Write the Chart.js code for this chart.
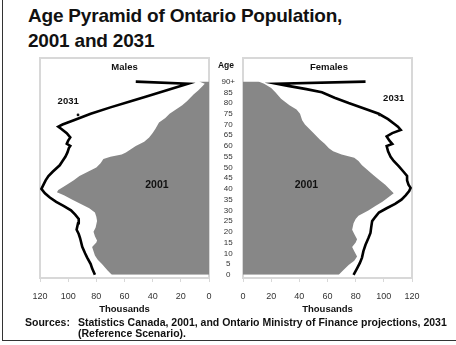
<!DOCTYPE html>
<html>
<head>
<meta charset="utf-8">
<script src="https://cdn.jsdelivr.net/npm/chart.js@4.4.1/dist/chart.umd.min.js"></script>
<style>
  html, body { margin: 0; padding: 0; background: #fff; }
  body { width: 456px; height: 345px; position: relative; overflow: hidden; font-family: "Liberation Sans", Arial, sans-serif; color: #111; }
  canvas { position: absolute; left: 0; top: 0; }
  .frame { position: absolute; left: 2px; top: -2px; width: 460px; height: 342px; border-left: 1px solid #333; border-bottom: 1px solid #333; }
  .title { position: absolute; left: 28px; top: 4px; font-size: 19px; font-weight: bold; line-height: 24.5px; letter-spacing: -0.2px; }
  .src-label { position: absolute; left: 25px; top: 317px; font-size: 10.5px; font-weight: bold; line-height: 10.5px; }
  .src-text { position: absolute; left: 78px; top: 317px; font-size: 10.5px; font-weight: bold; line-height: 10.5px; white-space: nowrap; }
</style>
</head>
<body>
<div class="frame"></div>
<div class="title">Age Pyramid of Ontario Population,<br>2001 and 2031</div>
<canvas id="males" width="456" height="345"></canvas>
<canvas id="females" width="456" height="345"></canvas>
<div class="src-label">Sources:</div>
<div class="src-text">Statistics Canada, 2001, and Ontario Ministry of Finance projections, 2031<br>(Reference Scenario).</div>
<script>
// ages on the vertical axis, thousands of people on the horizontal one
const AGE_TICKS = [0, 5, 10, 15, 20, 25, 30, 35, 40, 45, 50, 55, 60, 65, 70, 75, 80, 85, 90];
const AGE_TICK_LABELS = ['0', '5', '10', '15', '20', '25', '30', '35', '40', '45', '50', '55', '60', '65', '70', '75', '80', '85', '90+'];
const THOUSANDS_TICKS = [0, 20, 40, 60, 80, 100, 120];

// [age, thousands] - 90 stands for 90+
const MALES_2001 = [
  [0, 69], [2, 72], [5, 76], [7, 79], [9, 81], [11, 82], [13, 83], [15, 80], [16, 79.5], [18, 81],
  [20, 82], [22, 80.5], [25, 79.5], [27, 80], [29, 81], [31, 85], [33, 91], [35, 97], [37, 103],
  [38.5, 108], [39.5, 107], [42, 101], [44, 96], [46, 92], [48, 86], [50, 80], [52, 77], [54, 75],
  [55, 70], [56, 62], [57, 59], [60, 52], [62, 46], [64, 42.5], [66, 40], [68, 38], [71, 35.5],
  [73, 31], [75, 28], [77, 23.5], [79, 19], [81, 15.5], [84, 11], [86, 7.5], [88, 4.5], [89, 3], [90, 7],
];
const MALES_2031 = [
  [0, 81], [3, 83], [5, 84], [8, 86.5], [10, 88], [13, 90], [17, 91.5], [19, 92.5], [21, 94], [24, 93],
  [26, 92.5], [28, 95], [30, 98], [32, 103], [34, 108.5], [36, 113], [38, 116.5], [40, 119], [42, 117.5],
  [44, 116], [46, 114], [48, 111], [51, 106], [53, 104], [55, 102], [57, 100.5], [59, 99.5], [60, 98.5],
  [61, 101], [62.5, 100], [64, 98.5], [66, 101], [68, 105], [69, 107], [70, 104], [72, 96], [75, 84],
  [78, 70], [81, 55], [83, 45], [86, 30], [89, 15], [90, 52],
];
const FEMALES_2001 = [
  [0, 68], [2, 71], [4.5, 75], [6.5, 79], [8.5, 81], [11, 79], [13, 77.5], [15, 80], [16.5, 81], [19, 79],
  [21, 77.5], [24, 78.5], [26, 80], [27.5, 82], [30, 89], [32, 94], [34, 99], [36, 103], [38, 107],
  [40, 104], [42, 101], [44, 97], [46.5, 92.5], [49, 88], [51, 84.5], [53, 82], [54.5, 79], [56, 70],
  [57.5, 64], [59, 61], [61, 58], [63, 54.5], [66, 50], [68, 47], [70, 44], [72, 42], [75, 40.5],
  [77, 38], [79, 33], [82, 27], [85, 23], [87, 20], [89, 15], [90, 11],
];
const FEMALES_2031 = [
  [0, 78.5], [3, 81], [5.5, 83], [8, 84.5], [11, 85.5], [14, 87], [17, 89], [19.5, 90.5], [22, 91],
  [25, 91.7], [27, 94], [29, 96.5], [31, 102], [33, 108], [35, 112.5], [37, 115.5], [39, 118], [40.5, 119],
  [42, 117.5], [44, 116.5], [46, 116.5], [48, 114], [50.5, 110.7], [53, 107], [55, 104.8], [57.5, 103],
  [60, 102], [61, 106], [62.5, 104], [64.5, 102], [66, 106], [67.5, 112], [69, 110], [70, 108],
  [72.5, 103], [75, 96.4], [77.5, 86], [80, 75], [82.5, 65], [85, 56], [86.5, 45], [88, 32], [89, 24], [90, 87],
];

const FONT = '"Liberation Sans", Arial, sans-serif';
Chart.defaults.font.family = FONT;

const toPoints = (rows) => rows.map(([age, v]) => ({ x: v, y: age }));

// box around each panel + the text labels that sit inside it
const panelDecor = {
  id: 'panelDecor',
  beforeDatasetsDraw(chart) {
    const { ctx, chartArea: a } = chart;
    ctx.save();
    ctx.strokeStyle = '#d8d8d8';
    ctx.lineWidth = 2;
    ctx.strokeRect(a.left, a.top, a.right - a.left, a.bottom - a.top);
    ctx.restore();
  },
  afterDraw(chart, args, opts) {
    const { ctx } = chart;
    const xs = chart.scales.x;
    const ys = chart.scales.y;
    ctx.save();
    ctx.fillStyle = '#111';
    ctx.textAlign = 'center';
    ctx.textBaseline = 'middle';
    (opts.labels || []).forEach((l) => {
      ctx.font = `bold ${l.size}px ${FONT}`;
      const px = l.onAxis ? (ys.left + ys.right) / 2 - 1 : xs.getPixelForValue(l.at[0]);
      ctx.fillText(l.text, px, ys.getPixelForValue(l.at[1]));
    });
    if (opts.pointer) {
      const p = opts.pointer;
      ctx.beginPath();
      ctx.arc(xs.getPixelForValue(p[0]), ys.getPixelForValue(p[1]), 1.4, 0, Math.PI * 2);
      ctx.fill();
    }
    ctx.restore();
  },
};

function pyramid(canvasId, isMales, line2031, fill2001, decor) {
  return new Chart(document.getElementById(canvasId), {
    type: 'line',
    data: {
      datasets: [
        {
          label: '2031', data: toPoints(line2031), order: 0,
          borderColor: '#000', borderWidth: 2.6, pointRadius: 0, fill: false, tension: 0,
        },
        {
          label: '2001', data: toPoints(fill2001), order: 1,
          borderWidth: 0, borderColor: 'rgba(0,0,0,0)', backgroundColor: '#878787',
          pointRadius: 0, fill: 'origin', tension: 0,
        },
      ],
    },
    options: {
      responsive: false,
      animation: false,
      indexAxis: 'y',
      layout: {
        padding: isMales
          ? { left: 40, right: 247, top: 58, bottom: 27 }
          : { left: 211, right: 44, top: 58, bottom: 27 },
      },
      plugins: {
        legend: { display: false },
        tooltip: { enabled: false },
        panelDecor: decor,
      },
      scales: {
        x: {
          type: 'linear',
          min: 0,
          max: 120,
          reverse: isMales,
          afterFit: (s) => { s.height = 40; },
          afterBuildTicks: (s) => { s.ticks = THOUSANDS_TICKS.map((v) => ({ value: v })); },
          grid: { drawOnChartArea: false, drawTicks: true, tickLength: 4, color: '#d8d8d8' },
          border: { display: false },
          ticks: { padding: 9, color: '#333', font: { size: 9 } },
          title: {
            display: true, text: 'Thousands', color: '#111',
            font: { size: 9.5, weight: 'bold' }, padding: { top: 0, bottom: 3 },
          },
        },
        y: {
          type: 'linear',
          min: -1.5,
          max: 101,
          display: !isMales,
          position: 'left',
          afterFit: (s) => { s.width = isMales ? 0 : 32; },
          afterBuildTicks: (s) => { s.ticks = AGE_TICKS.map((v) => ({ value: v })); },
          grid: { display: false, drawTicks: false },
          border: { display: false },
          ticks: {
            autoSkip: false, padding: 8, crossAlign: 'center', color: '#333', font: { size: 8 },
            callback: (v) => AGE_TICK_LABELS[AGE_TICKS.indexOf(v)],
          },
        },
      },
    },
    plugins: [panelDecor],
  });
}

pyramid('males', true, MALES_2031, MALES_2001, {
  labels: [
    { text: 'Males', at: [60, 96.5], size: 9.5 },
    { text: '2031', at: [100, 81], size: 9.5 },
    { text: '2001', at: [37, 42], size: 10.5 },
  ],
  pointer: [93, 74.5],
});

pyramid('females', false, FEMALES_2031, FEMALES_2001, {
  labels: [
    { text: 'Females', at: [61, 96.5], size: 9.5 },
    { text: '2031', at: [107, 82], size: 9.5 },
    { text: '2001', at: [45, 42], size: 10.5 },
    { text: 'Age', at: [0, 97.5], size: 8.5, onAxis: true },
  ],
  pointer: [97, 74.5],
});
</script>
</body>
</html>
